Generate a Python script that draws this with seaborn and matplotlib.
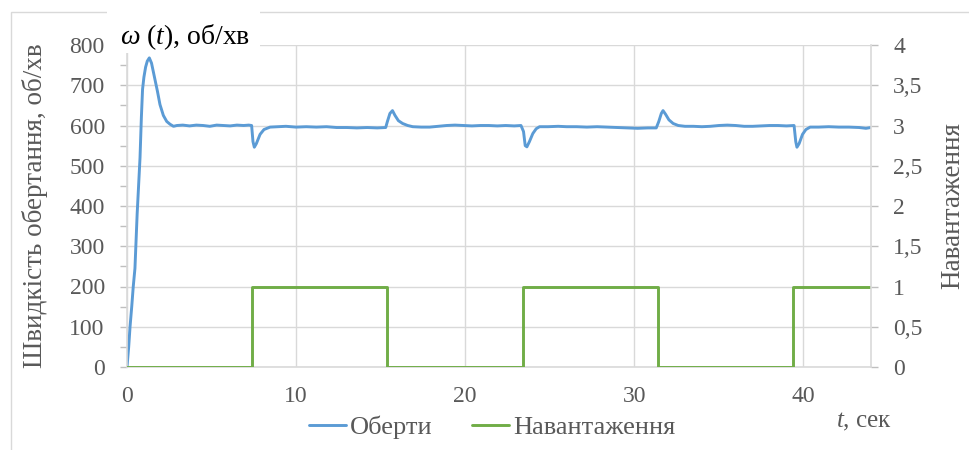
import matplotlib
matplotlib.use('Agg')
import matplotlib.pyplot as plt
import pandas as pd
import seaborn as sns
from matplotlib.patches import Rectangle
from matplotlib.ticker import MultipleLocator, FuncFormatter

# speed curve (t in s, rpm)
speed_t = [0, 0.1, 0.18, 0.28, 0.37, 0.47, 0.6, 0.7, 0.77, 0.85, 0.92, 1.0, 1.1, 1.2, 1.32,
           1.45, 1.6, 1.8, 1.95, 2.15, 2.35, 2.55, 2.75, 2.95, 3.3, 3.7, 4.1, 4.5, 4.9, 5.3,
           5.7, 6.1, 6.5, 6.9, 7.2, 7.37, 7.45, 7.53, 7.65, 7.87, 8.1, 8.46, 8.9, 9.4, 10.0,
           10.6, 11.2, 11.8, 12.4, 13.0, 13.6, 14.2, 14.8, 15.3, 15.4, 15.55, 15.7, 15.85,
           16.05, 16.3, 16.6, 16.9, 17.4, 17.9, 18.4, 18.9, 19.4, 19.9, 20.4, 20.9, 21.4,
           21.9, 22.4, 22.9, 23.3, 23.45, 23.55, 23.65, 23.8, 24.0, 24.2, 24.4, 24.9, 25.5,
           26.0, 26.6, 27.2, 27.8, 28.4, 29.0, 29.6, 30.2, 30.8, 31.3, 31.45, 31.6, 31.7,
           31.85, 32.05, 32.3, 32.6, 33.0, 33.5, 34.0, 34.5, 35.0, 35.5, 36.0, 36.5, 37.0,
           37.5, 38.0, 38.5, 39.0, 39.45, 39.55, 39.62, 39.75, 39.95, 40.15, 40.4, 40.9,
           41.5, 42.1, 42.7, 43.3, 43.7, 44.0]
speed_rpm = [0, 50, 100, 150, 200, 245, 380, 460, 520, 620, 690, 720, 745, 760, 768,
             755, 725, 685, 652, 625, 610, 603, 598, 600, 601, 599, 601, 600, 598, 601,
             600, 599, 601, 600, 601, 600, 560, 546, 555, 578, 590, 596, 597, 598, 596,
             597, 596, 597, 595, 595, 594, 595, 594, 595, 610, 630, 637, 625,
             612, 605, 600, 597, 596, 596, 598, 600, 601, 600, 599, 600, 600,
             599, 600, 599, 600, 585, 550, 547, 560, 580, 592, 597, 597, 598,
             597, 597, 596, 597, 596, 595, 594, 593, 594, 594, 610, 630, 637,
             628, 614, 605, 600, 598, 598, 597, 598, 600, 601, 600, 598, 598,
             599, 600, 600, 599, 600, 560, 546, 555, 578, 590, 596, 596,
             597, 596, 596, 595, 593, 595]

# load switching moments (s) and load level
load_t = [0, 7.37, 15.37, 23.4, 31.4, 39.4, 44.0]
load_val = [0, 1, 0, 1, 0, 1, 1]

BLUE = '#5b9bd5'
GREEN = '#70ad47'
GRID = '#d9d9d9'
TEXT = '#595959'
FS = 17


def comma(v, pos):
    return f'{v:g}'.replace('.', ',')


def main():
    sns.set_style('white')
    plt.rcParams['font.family'] = ['Liberation Serif', 'DejaVu Serif']
    plt.rcParams['mathtext.fontset'] = 'custom'
    plt.rcParams['mathtext.rm'] = 'Liberation Serif'
    plt.rcParams['mathtext.it'] = 'Liberation Serif:italic'

    speed = pd.DataFrame({'t': speed_t, 'rpm': speed_rpm})
    load = pd.DataFrame({'t': load_t, 'load': load_val})

    fig = plt.figure(figsize=(9.69, 4.5), dpi=100)
    ax = fig.add_axes([127 / 969, 1 - 367 / 450, 744 / 969, 322 / 450])

    sns.lineplot(data=speed, x='t', y='rpm', ax=ax, color=BLUE, lw=2.1,
                 estimator=None, sort=False, label='Оберти', legend=False)
    ax.set_xlim(0, 44)
    ax.set_ylim(0, 800)
    ax.xaxis.set_major_locator(MultipleLocator(10))
    ax.xaxis.set_minor_locator(MultipleLocator(2))
    ax.yaxis.set_major_locator(MultipleLocator(100))
    ax.yaxis.set_minor_locator(MultipleLocator(50))
    ax.grid(True, which='major', color=GRID, lw=1)
    ax.set_axisbelow(True)
    for side in ['top', 'right']:
        ax.spines[side].set_visible(False)
    for side in ['left', 'bottom']:
        ax.spines[side].set_color(GRID)
        ax.spines[side].set_linewidth(1.2)
    ax.tick_params(which='both', direction='out', length=5, width=1, color='#bfbfbf',
                   labelsize=FS, labelcolor=TEXT)
    ax.tick_params(axis='y', which='both', pad=11)
    ax.tick_params(axis='x', which='both', pad=9)
    ax.set_xlabel('')
    ax.set_ylabel('Швидкість обертання, об/хв', fontsize=19.5, color=TEXT)
    ax.yaxis.set_label_coords(-0.106, 0.5)

    ax2 = ax.twinx()
    sns.lineplot(data=load, x='t', y='load', ax=ax2, color=GREEN, lw=2.1,
                 estimator=None, sort=False, drawstyle='steps-post',
                 label='Навантаження', legend=False)
    ax2.set_ylim(0, 4)
    ax2.set_xlim(0, 44)
    ax2.yaxis.set_major_locator(MultipleLocator(0.5))
    ax2.yaxis.set_major_formatter(FuncFormatter(comma))
    for side in ['top', 'left', 'bottom']:
        ax2.spines[side].set_visible(False)
    ax2.spines['right'].set_color(GRID)
    ax2.spines['right'].set_linewidth(1.2)
    ax2.tick_params(direction='out', length=5, width=1, color='#bfbfbf',
                    labelsize=FS, labelcolor=TEXT, pad=11)
    ax2.set_ylabel('Навантаження', fontsize=19.5, color=TEXT)
    ax2.yaxis.set_label_coords(1.093, 0.5)
    ax2.grid(False)

    # outer chart frame and the title box
    fig.patches.append(Rectangle((11 / 969, -0.1), 1.1, 1 - 12 / 450 + 0.1,
                                 transform=fig.transFigure, fill=False,
                                 edgecolor=GRID, lw=1, zorder=1))
    fig.patches.append(Rectangle((107 / 969, 1 - 53 / 450), 153 / 969, 43 / 450,
                                 transform=fig.transFigure, facecolor='white',
                                 edgecolor='none', zorder=2))
    fig.text(120 / 969, 1 - 37 / 450, r'$\mathit{\omega\ (t)}$, об/хв', fontsize=20,
             color='black', va='center', ha='left', zorder=3)
    fig.text(836 / 969, 1 - 422 / 450, r'$t$, сек', fontsize=18, color=TEXT,
             va='center', ha='left')

    handles = ax.get_lines()[:1] + ax2.get_lines()[:1]
    fig.legend(handles, ['Оберти', 'Навантаження'], loc='center',
               bbox_to_anchor=(0.508, 1 - 427 / 450), ncol=2, frameon=False,
               prop={'size': 19}, labelcolor=TEXT, handlelength=1.4,
               handletextpad=0.15, columnspacing=1.5)

    fig.savefig('out.png', dpi=100)


if __name__ == '__main__':
    main()
